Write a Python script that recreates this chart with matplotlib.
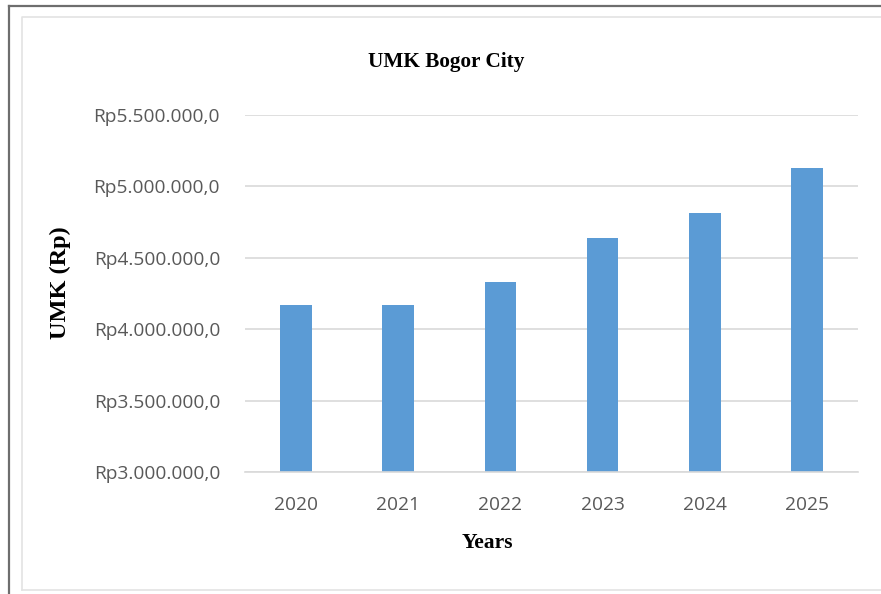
import matplotlib.pyplot as plt
from matplotlib.lines import Line2D
from matplotlib.ticker import FuncFormatter

years = ['2020', '2021', '2022', '2023', '2024', '2025']
umk = [4169806, 4169806, 4330249, 4639429, 4813988, 5126897]
y_ticks = [3000000, 3500000, 4000000, 4500000, 5000000, 5500000]

bar_color = '#5B9BD5'
grid_color = '#d9d9d9'
tick_color = '#595959'


def rupiah(v, pos):
    # Indonesian style: dot thousands separator, comma decimal
    s = '{:,.1f}'.format(v)
    s = s.replace(',', 'X').replace('.', ',').replace('X', '.')
    return 'Rp' + s


W, H = 881, 594
fig = plt.figure(figsize=(W / 100, H / 100), dpi=100)
ax = fig.add_axes([245 / W, 122 / H, 613 / W, 357 / H])

x = range(len(years))
ax.bar(x, umk, width=0.31, color=bar_color, zorder=2)

ax.set_xlim(-0.5, len(years) - 0.5)
ax.set_ylim(y_ticks[0], y_ticks[-1])
ax.set_yticks(y_ticks)
ax.yaxis.set_major_formatter(FuncFormatter(rupiah))
ax.set_xticks(list(x))
ax.set_xticklabels(years)

ax.grid(axis='y', color=grid_color, linewidth=1.2, zorder=0)
for side in ['top', 'right', 'left']:
    ax.spines[side].set_visible(False)
ax.spines['bottom'].set_color(grid_color)
ax.spines['bottom'].set_linewidth(1.2)

ax.tick_params(axis='both', length=0, colors=tick_color, labelsize=13.8)
ax.tick_params(axis='y', pad=18)
ax.tick_params(axis='x', pad=17)
for lab in ax.get_xticklabels() + ax.get_yticklabels():
    lab.set_family('Open Sans')

serif = 'Liberation Serif'
fig.text(446 / W, 1 - 62 / H, 'UMK Bogor City', ha='center', va='center',
         family=serif, fontweight='bold', fontsize=15.3)
fig.text(60 / W, 1 - 283 / H, 'UMK (Rp)', ha='center', va='center',
         rotation=90, family=serif, fontweight='bold', fontsize=17.5)
fig.text(487 / W, 1 - 543 / H, 'Years', ha='center', va='center',
         family=serif, fontweight='bold', fontsize=15.5)

# outer frame (dark) and inner chart area border (light)
fig.add_artist(Line2D([9 / W, 9 / W], [0, 1 - 6 / H], color='#6e6e6e', lw=1.6))
fig.add_artist(Line2D([9 / W, 1], [1 - 6 / H, 1 - 6 / H], color='#6e6e6e', lw=1.6))
fig.add_artist(Line2D([22 / W, 22 / W, 1], [1 - 590 / H, 1 - 17 / H, 1 - 17 / H],
                      color='#e3e3e3', lw=1.2))
fig.add_artist(Line2D([22 / W, 1], [1 - 590 / H, 1 - 590 / H], color='#e3e3e3', lw=1.2))

fig.savefig('out.png', dpi=100)
